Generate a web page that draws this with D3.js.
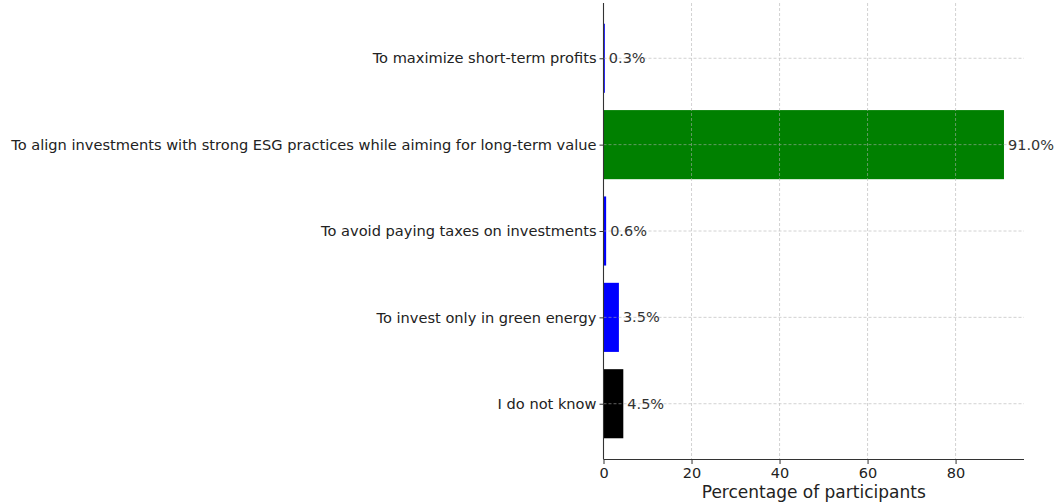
<!DOCTYPE html>
<html><head><meta charset="utf-8">
<script src="https://cdn.jsdelivr.net/npm/d3@7"></script>
<style>body{margin:0;background:#fff}svg{display:block}</style>
</head><body>
<script>
const categories = ["I do not know","To invest only in green energy","To avoid paying taxes on investments","To align investments with strong ESG practices while aiming for long-term value","To maximize short-term profits"];
const values = [4.5, 3.5, 0.6, 91.0, 0.3];
const colors = ["#000000","#0000ff","#0000ff","#008000","#0000ff"];
const xTicks = [0,20,40,60,80];

const W=1056,H=503;
const m={left:603.5,right:1024,top:3,bottom:459};
const svg=d3.select("body").append("svg").attr("width",W).attr("height",H)
  .style("font-family","DejaVu Sans");
const x=d3.scaleLinear().domain([0,95.55]).range([m.left,m.right]);
const n=categories.length;
const y=d3.scaleLinear().domain([-0.64,n-1+0.64]).range([m.bottom,m.top]);
const bh=(y(0)-y(0.8));

// bars
svg.append("g").selectAll("rect").data(values).join("rect")
  .attr("x",x(0)).attr("y",(d,i)=>y(i)-bh/2)
  .attr("width",d=>x(d)-x(0)).attr("height",bh)
  .attr("fill",(d,i)=>colors[i]);

// grid on top
const g=svg.append("g").attr("stroke","#b0b0b0").attr("stroke-dasharray","3,2").attr("stroke-width",0.8).attr("opacity",0.7);
xTicks.forEach(t=>g.append("line").attr("x1",x(t)).attr("x2",x(t)).attr("y1",m.top).attr("y2",m.bottom));
categories.forEach((c,i)=>g.append("line").attr("x1",m.left).attr("x2",m.right).attr("y1",y(i)).attr("y2",y(i)));

// x axis
const xa=svg.append("g").attr("transform",`translate(0,${m.bottom})`)
  .call(d3.axisBottom(x).tickValues(xTicks).tickSize(5).tickPadding(4).tickFormat(d3.format("d")));
xa.select(".domain").attr("d",`M${m.left},0.5H${m.right}`).attr("stroke","#333").attr("stroke-width",1.1);
xa.selectAll(".tick line").attr("stroke","#333");
xa.selectAll("text").attr("font-size",14.5).attr("fill","#222").attr("font-family","DejaVu Sans");

// y axis
const ya=svg.append("g").attr("transform",`translate(${m.left},0)`)
  .call(d3.axisLeft(y).tickValues(d3.range(n)).tickSize(4).tickPadding(3).tickFormat(i=>categories[i]));
ya.select(".domain").attr("d",`M0,${m.top}V${m.bottom}`).attr("stroke","#333").attr("stroke-width",1.1);
ya.selectAll(".tick line").attr("stroke","#333");
ya.selectAll("text").attr("font-size",14.6).attr("fill","#222").attr("font-family","DejaVu Sans");

// value labels
svg.append("g").selectAll("text").data(values).join("text")
  .attr("x",d=>x(d)+4).attr("y",(d,i)=>y(i)).attr("dy","0.35em")
  .attr("font-size",14.5).attr("fill","#333")
  .text(d=>d.toFixed(1)+"%");

// x label
svg.append("text").attr("x",(m.left+m.right)/2).attr("y",498).attr("text-anchor","middle")
  .attr("font-size",17).attr("fill","#222").text("Percentage of participants");
</script>
</body></html>
